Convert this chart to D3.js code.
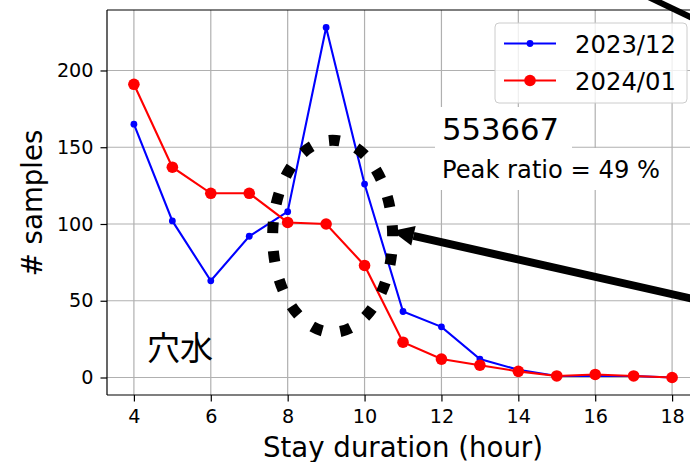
<!DOCTYPE html>
<html>
<head>
<meta charset="utf-8">
<script src="https://cdn.jsdelivr.net/npm/d3@7"></script>
<style>
  html, body { margin: 0; padding: 0; background: #fff; }
  svg { display: block; font-family: "DejaVu Sans", sans-serif; }
</style>
</head>
<body>
<svg id="chart" width="690" height="462"></svg>
<script>
// ---- data ----
const hours = [4, 5, 6, 7, 8, 9, 10, 11, 12, 13, 14, 15, 16, 17, 18];
const dec2023 = [165, 102, 63, 92, 108, 228, 126, 43, 33, 12, 5, 1, 1, 1, 0];
const jan2024 = [191, 137, 120, 120, 101, 100, 73, 23, 12, 8, 4, 1, 2, 1, 0];
const seriesNames = ["2023/12", "2024/01"];
const xTicks = [4, 6, 8, 10, 12, 14, 16, 18];
const yTicks = [0, 50, 100, 150, 200];
const xLabel = "Stay duration (hour)";
const yLabel = "# samples";
const placeLabel = "穴水";
const countText = "553667";
const ratioText = "Peak ratio = 49 %";

(function () {
// ---- layout ----
const svg = d3.select("#chart");
const L = 107, R = 699, T = 10, B = 395;
const xPad = (d3.max(hours) - d3.min(hours)) * 0.05;
const allVals = dec2023.concat(jan2024);
const yMin = d3.min(allVals), yMax = d3.max(allVals);
const yPad = (yMax - yMin) * 0.05;
const x = d3.scaleLinear().domain([d3.min(hours) - xPad, d3.max(hours) + xPad]).range([L, R]);
const y = d3.scaleLinear().domain([yMin - yPad, yMax + yPad]).range([B, T]);

const defs = svg.append("defs");
defs.append("clipPath").attr("id", "plotclip")
  .append("rect").attr("x", L).attr("y", T).attr("width", R - L).attr("height", B - T);

// grid
const grid = svg.append("g").attr("clip-path", "url(#plotclip)");
grid.selectAll("line.gx").data(xTicks).join("line").attr("class", "gx")
  .attr("x1", d => x(d)).attr("x2", d => x(d)).attr("y1", T).attr("y2", B)
  .attr("stroke", "#b0b0b0").attr("stroke-width", 1.2);
grid.selectAll("line.gy").data(yTicks).join("line").attr("class", "gy")
  .attr("y1", d => y(d)).attr("y2", d => y(d)).attr("x1", L).attr("x2", R)
  .attr("stroke", "#b0b0b0").attr("stroke-width", 1.2);

// series
const plot = svg.append("g").attr("clip-path", "url(#plotclip)");
const line = d3.line().x(d => x(d[0])).y(d => y(d[1]));
const s1 = hours.map((h, i) => [h, dec2023[i]]);
const s2 = hours.map((h, i) => [h, jan2024[i]]);
plot.append("path").datum(s1).attr("d", line).attr("fill", "none").attr("stroke", "#0000ff").attr("stroke-width", 2.1);
plot.selectAll("circle.b").data(s1).join("circle").attr("class", "b")
  .attr("cx", d => x(d[0])).attr("cy", d => y(d[1])).attr("r", 3.4).attr("fill", "#0000ff");
plot.append("path").datum(s2).attr("d", line).attr("fill", "none").attr("stroke", "#ff0000").attr("stroke-width", 2.1);
plot.selectAll("circle.r").data(s2).join("circle").attr("class", "r")
  .attr("cx", d => x(d[0])).attr("cy", d => y(d[1])).attr("r", 5.8).attr("fill", "#ff0000");

// dotted ellipse (data coords)
const ecx = x(9.17), ecy = y(92), erx = 60, ery = 96;
plot.append("path")
  .attr("d", `M${ecx + erx},${ecy} A${erx},${ery} 0 1 0 ${ecx - erx},${ecy} A${erx},${ery} 0 1 0 ${ecx + erx},${ecy}`)
  .attr("fill", "none").attr("stroke", "#000").attr("stroke-width", 11)
  .attr("stroke-dasharray", "11 18.2").attr("stroke-linecap", "butt");

// spines
[[L, T, L, B], [L, B, R, B], [L, T, R, T], [R, T, R, B]].forEach(s => {
  svg.append("line").attr("x1", s[0]).attr("y1", s[1]).attr("x2", s[2]).attr("y2", s[3])
    .attr("stroke", "#000").attr("stroke-width", 1.2);
});

// axes
const xAxis = svg.append("g").attr("transform", `translate(0,${B})`)
  .call(d3.axisBottom(x).tickValues(xTicks).tickSize(6.5).tickPadding(8).tickFormat(d3.format("d")));
const yAxis = svg.append("g").attr("transform", `translate(${L},0)`)
  .call(d3.axisLeft(y).tickValues(yTicks).tickSize(6.5).tickPadding(7).tickFormat(d3.format("d")));
[xAxis, yAxis].forEach(a => {
  a.select(".domain").remove();
  a.selectAll(".tick line").attr("stroke", "#000").attr("stroke-width", 1.2);
  a.selectAll(".tick text").attr("fill", "#000").style("font-size", "19.2px").style("font-family", "DejaVu Sans");
});

// axis labels
svg.append("text").attr("x", (L + R) / 2).attr("y", 456.5).attr("text-anchor", "middle")
  .style("font-size", "27.6px").attr("fill", "#000").text(xLabel);
svg.append("text").attr("transform", `translate(41.5,203) rotate(-90)`).attr("text-anchor", "middle")
  .style("font-size", "27.6px").attr("fill", "#000").text(yLabel);

// place label
svg.append("text").attr("x", 147).attr("y", 360).style("font-family", "'Noto Sans CJK JP', sans-serif")
  .style("font-size", "33px").attr("fill", "#000").text(placeLabel);

// text boxes
svg.append("rect").attr("x", 435).attr("y", 107).attr("width", 137).attr("height", 41).attr("fill", "#fff");
svg.append("rect").attr("x", 435).attr("y", 148).attr("width", 233).attr("height", 42).attr("fill", "#fff");
svg.append("text").attr("x", 442).attr("y", 140).style("font-size", "30.7px").attr("fill", "#000").text(countText);
svg.append("text").attr("x", 442).attr("y", 178).style("font-size", "24.2px").attr("fill", "#000").text(ratioText);

// arrow to ellipse
const tip = [392, 231], tail = [720, 305];
const ang = Math.atan2(tail[1] - tip[1], tail[0] - tip[0]);
const ux = Math.cos(ang), uy = Math.sin(ang), nx = -uy, ny = ux;
const HL = 22, HW = 10;
const bx = tip[0] + HL * ux, by = tip[1] + HL * uy;
svg.append("line").attr("x1", bx).attr("y1", by).attr("x2", tail[0]).attr("y2", tail[1])
  .attr("stroke", "#000").attr("stroke-width", 8);
svg.append("path")
  .attr("d", `M${tip[0]},${tip[1]} L${bx + HW * nx},${by + HW * ny} L${bx - HW * nx},${by - HW * ny} Z`)
  .attr("fill", "#000");

// top-right arrow fragment
svg.append("line").attr("x1", 640).attr("y1", -7).attr("x2", 705).attr("y2", 24)
  .attr("stroke", "#000").attr("stroke-width", 6);

// legend
const lg = svg.append("g");
lg.append("rect").attr("x", 495).attr("y", 23).attr("width", 192).attr("height", 80).attr("rx", 4)
  .attr("fill", "#fff").attr("fill-opacity", 0.8).attr("stroke", "#cccccc").attr("stroke-width", 1);
const legendItems = [
  { name: seriesNames[0], color: "#0000ff", r: 3.4, yy: 43.5 },
  { name: seriesNames[1], color: "#ff0000", r: 5.8, yy: 80.5 }
];
legendItems.forEach(it => {
  lg.append("line").attr("x1", 504).attr("x2", 556).attr("y1", it.yy).attr("y2", it.yy)
    .attr("stroke", it.color).attr("stroke-width", 2.1);
  lg.append("circle").attr("cx", 530).attr("cy", it.yy).attr("r", it.r).attr("fill", it.color);
  lg.append("text").attr("x", 575).attr("y", it.yy + 9.5).style("font-size", "24.3px").attr("fill", "#000").text(it.name);
});
})();
</script>
</body>
</html>
